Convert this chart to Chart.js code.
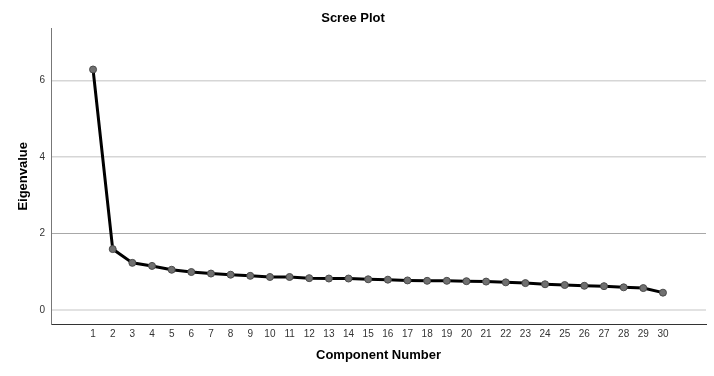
<!DOCTYPE html>
<html>
<head>
<meta charset="utf-8">
<script src="https://cdn.jsdelivr.net/npm/chart.js@4/dist/chart.umd.min.js"></script>
<style>
html,body{margin:0;padding:0;background:#fff;}
canvas{display:block;}
</style>
</head>
<body>
<canvas id="c" width="714" height="376"></canvas>
<script>
const components = [1,2,3,4,5,6,7,8,9,10,11,12,13,14,15,16,17,18,19,20,21,22,23,24,25,26,27,28,29,30];
const eigenvalues = [6.29,1.59,1.23,1.15,1.05,0.99,0.95,0.92,0.89,0.86,0.86,0.83,0.82,0.82,0.80,0.79,0.77,0.76,0.76,0.75,0.74,0.72,0.70,0.67,0.65,0.63,0.62,0.59,0.57,0.45];
const yTicks = [0,2,4,6];
const titleText = 'Scree Plot';
const xTitle = 'Component Number';
const yTitle = 'Eigenvalue';

const FONT = "'Liberation Sans', Arial, sans-serif";

new Chart(document.getElementById('c'), {
  type: 'line',
  data: {
    datasets: [{
      data: components.map((c, i) => ({x: c, y: eigenvalues[i]})),
      borderColor: '#000',
      borderWidth: 3,
      pointRadius: 3.5,
      pointBackgroundColor: '#707070',
      pointBorderColor: '#4a4a4a',
      pointBorderWidth: 1,
      tension: 0
    }]
  },
  options: {
    responsive: false,
    animation: false,
    layout: { padding: { left: 0, right: 8, top: 0, bottom: 0 } },
    plugins: {
      legend: { display: false },
      tooltip: { enabled: false },
      title: {
        display: true,
        text: titleText,
        color: '#000',
        font: { family: FONT, size: 13, weight: 'bold' },
        padding: { top: 11, bottom: 2 }
      }
    },
    scales: {
      x: {
        type: 'linear',
        min: -1.14,
        max: 32.19,
        grid: { display: false, drawTicks: false },
        border: { display: true, color: '#333', width: 1 },
        afterBuildTicks: s => { s.ticks = components.map(v => ({value: v})); },
        afterFit: s => { s.height = 52; },
        ticks: {
          autoSkip: false,
          maxRotation: 0,
          padding: 4,
          color: '#333',
          font: { family: FONT, size: 10 }
        },
        title: {
          display: true,
          text: xTitle,
          color: '#000',
          font: { family: FONT, size: 13, weight: 'bold' },
          padding: { top: 0, bottom: 13 }
        }
      },
      y: {
        type: 'linear',
        min: -0.37,
        max: 7.36,
        afterBuildTicks: s => { s.ticks = yTicks.map(v => ({value: v})); },
        afterFit: s => { s.width = 51; },
        grid: {
          drawTicks: false,
          color: ctx => {
            const v = ctx.tick ? ctx.tick.value : null;
            if (v === 0) return '#e2e2e2';
            if (v === 2) return '#a8a8a8';
            return '#d6d6d6';
          },
          lineWidth: ctx => {
            const v = ctx.tick ? ctx.tick.value : null;
            if (v === 0) return 2;
            if (v === 2) return 1;
            return 1.5;
          }
        },
        border: { display: true, color: '#777', width: 1 },
        ticks: {
          padding: 6,
          color: '#333',
          font: { family: FONT, size: 10 }
        },
        title: {
          display: true,
          text: yTitle,
          color: '#000',
          font: { family: FONT, size: 13, weight: 'bold' },
          padding: { top: 16, bottom: 0 }
        }
      }
    }
  }
});
</script>
</body>
</html>
